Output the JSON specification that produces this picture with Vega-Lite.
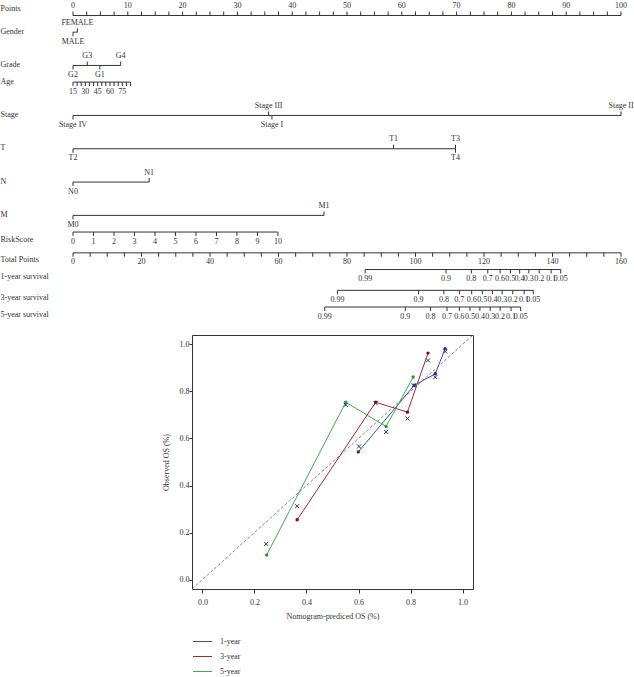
{
  "$schema": "https://vega.github.io/schema/vega-lite/v6.json",
  "padding": {"top": -2, "left": 0, "right": 0, "bottom": 0},
  "background": "white",
  "spacing": 13,
  "resolve": {"scale": {"color": "independent", "fill": "independent"}, "legend": {"color": "independent", "fill": "independent"}},
  "config": {"font": "Liberation Serif", "text": {"font": "Liberation Serif", "fill": "#333333"}},
  "datasets": {
    "ptsLines": [
      {"row": "Points", "x0": 0, "x1": 100},
      {"row": "Gender", "x0": 0, "x1": 0.8},
      {"row": "Grade", "x0": 0, "x1": 8.7},
      {"row": "Age", "x0": 0, "x1": 10.5},
      {"row": "Stage", "x0": 0, "x1": 100},
      {"row": "T", "x0": 0, "x1": 69.8},
      {"row": "N", "x0": 0, "x1": 13.9},
      {"row": "M", "x0": 0, "x1": 45.8},
      {"row": "RiskScore", "x0": 0, "x1": 37.4}
    ],
    "tpLines": [
      {"row": "Total Points", "x0": 0, "x1": 160},
      {"row": "1-year survival", "x0": 85.3, "x1": 142.4},
      {"row": "3-year survival", "x0": 77.2, "x1": 134.4},
      {"row": "5-year survival", "x0": 73.5, "x1": 130.7}
    ],
    "ptsTicks": [
      {"row": "Points", "x": 0, "label": "0", "side": "above"},
      {"row": "Points", "x": 2.5, "label": "", "side": "above"},
      {"row": "Points", "x": 5, "label": "", "side": "above"},
      {"row": "Points", "x": 7.5, "label": "", "side": "above"},
      {"row": "Points", "x": 10, "label": "10", "side": "above"},
      {"row": "Points", "x": 12.5, "label": "", "side": "above"},
      {"row": "Points", "x": 15, "label": "", "side": "above"},
      {"row": "Points", "x": 17.5, "label": "", "side": "above"},
      {"row": "Points", "x": 20, "label": "20", "side": "above"},
      {"row": "Points", "x": 22.5, "label": "", "side": "above"},
      {"row": "Points", "x": 25, "label": "", "side": "above"},
      {"row": "Points", "x": 27.5, "label": "", "side": "above"},
      {"row": "Points", "x": 30, "label": "30", "side": "above"},
      {"row": "Points", "x": 32.5, "label": "", "side": "above"},
      {"row": "Points", "x": 35, "label": "", "side": "above"},
      {"row": "Points", "x": 37.5, "label": "", "side": "above"},
      {"row": "Points", "x": 40, "label": "40", "side": "above"},
      {"row": "Points", "x": 42.5, "label": "", "side": "above"},
      {"row": "Points", "x": 45, "label": "", "side": "above"},
      {"row": "Points", "x": 47.5, "label": "", "side": "above"},
      {"row": "Points", "x": 50, "label": "50", "side": "above"},
      {"row": "Points", "x": 52.5, "label": "", "side": "above"},
      {"row": "Points", "x": 55, "label": "", "side": "above"},
      {"row": "Points", "x": 57.5, "label": "", "side": "above"},
      {"row": "Points", "x": 60, "label": "60", "side": "above"},
      {"row": "Points", "x": 62.5, "label": "", "side": "above"},
      {"row": "Points", "x": 65, "label": "", "side": "above"},
      {"row": "Points", "x": 67.5, "label": "", "side": "above"},
      {"row": "Points", "x": 70, "label": "70", "side": "above"},
      {"row": "Points", "x": 72.5, "label": "", "side": "above"},
      {"row": "Points", "x": 75, "label": "", "side": "above"},
      {"row": "Points", "x": 77.5, "label": "", "side": "above"},
      {"row": "Points", "x": 80, "label": "80", "side": "above"},
      {"row": "Points", "x": 82.5, "label": "", "side": "above"},
      {"row": "Points", "x": 85, "label": "", "side": "above"},
      {"row": "Points", "x": 87.5, "label": "", "side": "above"},
      {"row": "Points", "x": 90, "label": "90", "side": "above"},
      {"row": "Points", "x": 92.5, "label": "", "side": "above"},
      {"row": "Points", "x": 95, "label": "", "side": "above"},
      {"row": "Points", "x": 97.5, "label": "", "side": "above"},
      {"row": "Points", "x": 100, "label": "100", "side": "above"},
      {"row": "Gender", "x": 0.8, "label": "FEMALE", "side": "above"},
      {"row": "Gender", "x": 0, "label": "MALE", "side": "below"},
      {"row": "Grade", "x": 2.6, "label": "G3", "side": "above"},
      {"row": "Grade", "x": 8.7, "label": "G4", "side": "above"},
      {"row": "Grade", "x": 0, "label": "G2", "side": "below"},
      {"row": "Grade", "x": 4.9, "label": "G1", "side": "below"},
      {"row": "Age", "x": 0, "label": "15", "side": "below"},
      {"row": "Age", "x": 0.75, "label": "", "side": "below"},
      {"row": "Age", "x": 1.5, "label": "", "side": "below"},
      {"row": "Age", "x": 2.25, "label": "30", "side": "below"},
      {"row": "Age", "x": 3.0, "label": "", "side": "below"},
      {"row": "Age", "x": 3.75, "label": "", "side": "below"},
      {"row": "Age", "x": 4.5, "label": "45", "side": "below"},
      {"row": "Age", "x": 5.25, "label": "", "side": "below"},
      {"row": "Age", "x": 6.0, "label": "", "side": "below"},
      {"row": "Age", "x": 6.75, "label": "60", "side": "below"},
      {"row": "Age", "x": 7.5, "label": "", "side": "below"},
      {"row": "Age", "x": 8.25, "label": "", "side": "below"},
      {"row": "Age", "x": 9.0, "label": "75", "side": "below"},
      {"row": "Age", "x": 9.75, "label": "", "side": "below"},
      {"row": "Age", "x": 10.5, "label": "", "side": "below"},
      {"row": "Stage", "x": 35.7, "label": "Stage III", "side": "above"},
      {"row": "Stage", "x": 100, "label": "Stage II", "side": "above"},
      {"row": "Stage", "x": 0, "label": "Stage IV", "side": "below"},
      {"row": "Stage", "x": 36.3, "label": "Stage I", "side": "below"},
      {"row": "T", "x": 58.5, "label": "T1", "side": "above"},
      {"row": "T", "x": 69.8, "label": "T3", "side": "above"},
      {"row": "T", "x": 0, "label": "T2", "side": "below"},
      {"row": "T", "x": 69.8, "label": "T4", "side": "below"},
      {"row": "N", "x": 13.9, "label": "N1", "side": "above"},
      {"row": "N", "x": 0, "label": "N0", "side": "below"},
      {"row": "M", "x": 45.8, "label": "M1", "side": "above"},
      {"row": "M", "x": 0, "label": "M0", "side": "below"},
      {"row": "RiskScore", "x": 0, "label": "0", "side": "below"},
      {"row": "RiskScore", "x": 3.74, "label": "1", "side": "below"},
      {"row": "RiskScore", "x": 7.48, "label": "2", "side": "below"},
      {"row": "RiskScore", "x": 11.22, "label": "3", "side": "below"},
      {"row": "RiskScore", "x": 14.96, "label": "4", "side": "below"},
      {"row": "RiskScore", "x": 18.7, "label": "5", "side": "below"},
      {"row": "RiskScore", "x": 22.44, "label": "6", "side": "below"},
      {"row": "RiskScore", "x": 26.18, "label": "7", "side": "below"},
      {"row": "RiskScore", "x": 29.92, "label": "8", "side": "below"},
      {"row": "RiskScore", "x": 33.66, "label": "9", "side": "below"},
      {"row": "RiskScore", "x": 37.4, "label": "10", "side": "below"}
    ],
    "tpTicks": [
      {"row": "Total Points", "x": 0, "label": "0"},
      {"row": "Total Points", "x": 5, "label": ""},
      {"row": "Total Points", "x": 10, "label": ""},
      {"row": "Total Points", "x": 15, "label": ""},
      {"row": "Total Points", "x": 20, "label": "20"},
      {"row": "Total Points", "x": 25, "label": ""},
      {"row": "Total Points", "x": 30, "label": ""},
      {"row": "Total Points", "x": 35, "label": ""},
      {"row": "Total Points", "x": 40, "label": "40"},
      {"row": "Total Points", "x": 45, "label": ""},
      {"row": "Total Points", "x": 50, "label": ""},
      {"row": "Total Points", "x": 55, "label": ""},
      {"row": "Total Points", "x": 60, "label": "60"},
      {"row": "Total Points", "x": 65, "label": ""},
      {"row": "Total Points", "x": 70, "label": ""},
      {"row": "Total Points", "x": 75, "label": ""},
      {"row": "Total Points", "x": 80, "label": "80"},
      {"row": "Total Points", "x": 85, "label": ""},
      {"row": "Total Points", "x": 90, "label": ""},
      {"row": "Total Points", "x": 95, "label": ""},
      {"row": "Total Points", "x": 100, "label": "100"},
      {"row": "Total Points", "x": 105, "label": ""},
      {"row": "Total Points", "x": 110, "label": ""},
      {"row": "Total Points", "x": 115, "label": ""},
      {"row": "Total Points", "x": 120, "label": "120"},
      {"row": "Total Points", "x": 125, "label": ""},
      {"row": "Total Points", "x": 130, "label": ""},
      {"row": "Total Points", "x": 135, "label": ""},
      {"row": "Total Points", "x": 140, "label": "140"},
      {"row": "Total Points", "x": 145, "label": ""},
      {"row": "Total Points", "x": 150, "label": ""},
      {"row": "Total Points", "x": 155, "label": ""},
      {"row": "Total Points", "x": 160, "label": "160"},
      {"row": "1-year survival", "x": 85.3, "label": "0.99"},
      {"row": "1-year survival", "x": 108.9, "label": "0.9"},
      {"row": "1-year survival", "x": 116.3, "label": "0.8"},
      {"row": "1-year survival", "x": 121.1, "label": "0.7"},
      {"row": "1-year survival", "x": 124.7, "label": "0.6"},
      {"row": "1-year survival", "x": 127.7, "label": "0.5"},
      {"row": "1-year survival", "x": 130.4, "label": "0.4"},
      {"row": "1-year survival", "x": 133.1, "label": "0.3"},
      {"row": "1-year survival", "x": 136.1, "label": "0.2"},
      {"row": "1-year survival", "x": 139.6, "label": "0.1"},
      {"row": "1-year survival", "x": 142.4, "label": "0.05"},
      {"row": "3-year survival", "x": 77.2, "label": "0.99"},
      {"row": "3-year survival", "x": 100.9, "label": "0.9"},
      {"row": "3-year survival", "x": 108.3, "label": "0.8"},
      {"row": "3-year survival", "x": 112.8, "label": "0.7"},
      {"row": "3-year survival", "x": 116.4, "label": "0.6"},
      {"row": "3-year survival", "x": 119.5, "label": "0.5"},
      {"row": "3-year survival", "x": 122.5, "label": "0.4"},
      {"row": "3-year survival", "x": 125.3, "label": "0.3"},
      {"row": "3-year survival", "x": 128.4, "label": "0.2"},
      {"row": "3-year survival", "x": 131.7, "label": "0.1"},
      {"row": "3-year survival", "x": 134.4, "label": "0.05"},
      {"row": "5-year survival", "x": 73.5, "label": "0.99"},
      {"row": "5-year survival", "x": 97.0, "label": "0.9"},
      {"row": "5-year survival", "x": 104.4, "label": "0.8"},
      {"row": "5-year survival", "x": 109.2, "label": "0.7"},
      {"row": "5-year survival", "x": 112.8, "label": "0.6"},
      {"row": "5-year survival", "x": 115.9, "label": "0.5"},
      {"row": "5-year survival", "x": 118.8, "label": "0.4"},
      {"row": "5-year survival", "x": 121.8, "label": "0.3"},
      {"row": "5-year survival", "x": 124.7, "label": "0.2"},
      {"row": "5-year survival", "x": 127.9, "label": "0.1"},
      {"row": "5-year survival", "x": 130.7, "label": "0.05"}
    ],
    "calib": [
      {"year": "1-year", "pred": 0.599, "obs": 0.543},
      {"year": "1-year", "pred": 0.814, "obs": 0.826},
      {"year": "1-year", "pred": 0.895, "obs": 0.875},
      {"year": "1-year", "pred": 0.933, "obs": 0.982},
      {"year": "3-year", "pred": 0.364, "obs": 0.254},
      {"year": "3-year", "pred": 0.666, "obs": 0.754},
      {"year": "3-year", "pred": 0.788, "obs": 0.712},
      {"year": "3-year", "pred": 0.867, "obs": 0.963},
      {"year": "5-year", "pred": 0.247, "obs": 0.105},
      {"year": "5-year", "pred": 0.551, "obs": 0.754},
      {"year": "5-year", "pred": 0.706, "obs": 0.651},
      {"year": "5-year", "pred": 0.810, "obs": 0.861}
    ],
    "corrected": [
      {"pred": 0.245, "obs": 0.152},
      {"pred": 0.364, "obs": 0.312},
      {"pred": 0.551, "obs": 0.743},
      {"pred": 0.602, "obs": 0.566},
      {"pred": 0.666, "obs": 0.750},
      {"pred": 0.706, "obs": 0.628},
      {"pred": 0.788, "obs": 0.685},
      {"pred": 0.812, "obs": 0.826},
      {"pred": 0.867, "obs": 0.932},
      {"pred": 0.895, "obs": 0.861},
      {"pred": 0.933, "obs": 0.970}
    ],
    "diag": [{"pred": -0.04, "obs": -0.04, "pred2": 1.04, "obs2": 1.04}]
  },
  "vconcat": [
    {
      "width": 548,
      "height": 304,
      "view": {"stroke": null},
      "resolve": {"scale": {"x": "independent"}},
      "encoding": {
        "y": {
          "field": "row",
          "type": "nominal",
          "scale": {
            "type": "point",
            "padding": 0,
            "domain": ["_0","_1","_2","Points","_4","_5","_6","Gender","_8","_9","_10","_11","_12","_13","_14","Grade","_16","_17","_18","Age","_20","_21","_22","_23","_24","_25","_26","Stage","_28","_29","_30","_31","_32","_33","_34","T","_36","_37","_38","_39","_40","_41","_42","N","_44","_45","_46","_47","_48","_49","_50","M","_52","_53","_54","RiskScore","_56","_57","_58","_59","Total Points","_61","_62","_63","1-year survival","_65","_66","_67","_68","3-year survival","_70","_71","_72","5-year survival"]
          },
          "axis": {
            "title": null,
            "orient": "left",
            "domain": false,
            "ticks": false,
            "tickSize": 0,
            "grid": false,
            "labelAlign": "left",
            "labelBaseline": "middle",
            "labelPadding": 73,
            "labelFont": "Liberation Serif",
            "labelFontSize": 8,
            "labelColor": "#333333",
            "labelOverlap": false,
            "labelExpr": "indexof(datum.value, '_') == 0 ? '' : datum.value",
            "labelOffset": {
              "condition": [
                {"test": "datum.value == 'Points'", "value": -7},
                {"test": "indexof(['RiskScore','Total Points','1-year survival','3-year survival','5-year survival'], datum.value) >= 0", "value": 7}
              ],
              "value": -1
            }
          }
        }
      },
      "layer": [
        {
          "data": {"name": "ptsLines"},
          "mark": {"type": "rule", "color": "#333333", "strokeWidth": 1},
          "encoding": {
            "x": {"field": "x0", "type": "quantitative", "scale": {"domain": [0, 100], "nice": false, "zero": false}, "axis": null},
            "x2": {"field": "x1"}
          }
        },
        {
          "data": {"name": "ptsTicks"},
          "transform": [{"filter": "datum.side == 'above'"}],
          "mark": {"type": "tick", "orient": "vertical", "size": 4, "thickness": 1, "yOffset": -2, "color": "#333333", "opacity": 1},
          "encoding": {
            "x": {"field": "x", "type": "quantitative", "scale": {"domain": [0, 100], "nice": false, "zero": false}, "axis": null}
          }
        },
        {
          "data": {"name": "ptsTicks"},
          "transform": [{"filter": "datum.side == 'below'"}],
          "mark": {"type": "tick", "orient": "vertical", "size": 4, "thickness": 1, "yOffset": 2, "color": "#333333", "opacity": 1},
          "encoding": {
            "x": {"field": "x", "type": "quantitative", "scale": {"domain": [0, 100], "nice": false, "zero": false}, "axis": null}
          }
        },
        {
          "data": {"name": "ptsTicks"},
          "transform": [{"filter": "datum.side == 'above' && datum.label != ''"}],
          "mark": {"type": "text", "dy": -9.5, "fontSize": 8, "font": "Liberation Serif", "color": "#333333", "fill": "#333333", "baseline": "middle", "align": "center"},
          "encoding": {
            "x": {"field": "x", "type": "quantitative", "scale": {"domain": [0, 100], "nice": false, "zero": false}, "axis": null},
            "text": {"field": "label"}
          }
        },
        {
          "data": {"name": "ptsTicks"},
          "transform": [{"filter": "datum.side == 'below' && datum.label != ''"}],
          "mark": {"type": "text", "dy": 9.5, "fontSize": 8, "font": "Liberation Serif", "color": "#333333", "fill": "#333333", "baseline": "middle", "align": "center"},
          "encoding": {
            "x": {"field": "x", "type": "quantitative", "scale": {"domain": [0, 100], "nice": false, "zero": false}, "axis": null},
            "text": {"field": "label"}
          }
        },
        {
          "data": {"name": "tpLines"},
          "mark": {"type": "rule", "color": "#333333", "strokeWidth": 1},
          "encoding": {
            "x": {"field": "x0", "type": "quantitative", "scale": {"domain": [0, 160], "nice": false, "zero": false}, "axis": null},
            "x2": {"field": "x1"}
          }
        },
        {
          "data": {"name": "tpTicks"},
          "mark": {"type": "tick", "orient": "vertical", "size": 4, "thickness": 1, "yOffset": 2, "color": "#333333", "opacity": 1},
          "encoding": {
            "x": {"field": "x", "type": "quantitative", "scale": {"domain": [0, 160], "nice": false, "zero": false}, "axis": null}
          }
        },
        {
          "data": {"name": "tpTicks"},
          "transform": [{"filter": "datum.label != ''"}],
          "mark": {"type": "text", "dy": 9.5, "fontSize": 8, "font": "Liberation Serif", "color": "#333333", "fill": "#333333", "baseline": "middle", "align": "center"},
          "encoding": {
            "x": {"field": "x", "type": "quantitative", "scale": {"domain": [0, 160], "nice": false, "zero": false}, "axis": null},
            "text": {"field": "label"}
          }
        }
      ]
    },
    {
      "spacing": 20,
      "resolve": {"scale": {"color": "independent", "fill": "independent"}, "legend": {"color": "independent", "fill": "independent"}},
      "hconcat": [
        {
          "width": 68,
          "height": 10,
          "view": {"stroke": null},
          "data": {"values": []},
          "mark": {"type": "point"},
          "encoding": {}
        },
        {
          "width": 281,
          "height": 254,
          "view": {"stroke": "#333333", "strokeWidth": 1},
          "encoding": {
            "x": {
              "field": "pred",
              "type": "quantitative",
              "scale": {"domain": [-0.04, 1.04], "nice": false, "zero": false},
              "axis": {
                "values": [0, 0.2, 0.4, 0.6, 0.8, 1],
                "format": ".1f",
                "title": "Nomogram-prediced OS (%)",
                "domain": false,
                "grid": false,
                "tickSize": 4,
                "tickColor": "#333333",
                "labelPadding": 5,
                "labelFlush": false,
                "labelFont": "Liberation Serif",
                "labelFontSize": 8,
                "labelColor": "#333333",
                "titleFont": "Liberation Serif",
                "titleFontSize": 8,
                "titleFontWeight": "normal",
                "titleColor": "#333333",
                "titlePadding": 6
              }
            },
            "y": {
              "field": "obs",
              "type": "quantitative",
              "scale": {"domain": [-0.04, 1.04], "nice": false, "zero": false},
              "axis": {
                "values": [0, 0.2, 0.4, 0.6, 0.8, 1],
                "format": ".1f",
                "title": "Observed OS (%)",
                "domain": false,
                "grid": false,
                "tickSize": 3,
                "tickColor": "#333333",
                "labelPadding": 0,
                "labelFlush": false,
                "labelFont": "Liberation Serif",
                "labelFontSize": 8,
                "labelColor": "#333333",
                "titleFont": "Liberation Serif",
                "titleFontSize": 8,
                "titleFontWeight": "normal",
                "titleColor": "#333333",
                "titlePadding": 9
              }
            }
          },
          "layer": [
            {
              "data": {"name": "diag"},
              "mark": {"type": "rule", "color": "#666666", "strokeWidth": 0.8, "strokeDash": [3, 2]},
              "encoding": {
                "x2": {"field": "pred2"},
                "y2": {"field": "obs2"}
              }
            },
            {
              "data": {"name": "calib"},
              "mark": {"type": "line", "strokeWidth": 1},
              "encoding": {
                "color": {
                  "field": "year",
                  "type": "nominal",
                  "scale": {"domain": ["1-year", "3-year", "5-year"], "range": ["#3953a4", "#a8272f", "#3fae49"]},
                  "legend": {
                    "orient": "none",
                    "legendX": 3,
                    "legendY": 299,
                    "title": null,
                    "padding": 0,
                    "symbolType": "M-1.36,0H1.36",
                    "symbolSize": 196,
                    "symbolStrokeWidth": 1,
                    "labelFont": "Liberation Serif",
                    "labelFontSize": 8,
                    "labelColor": "#333333",
                    "labelOffset": 10,
                    "rowPadding": 3
                  }
                }
              }
            },
            {
              "data": {"name": "calib"},
              "mark": {"type": "circle", "size": 12, "opacity": 1},
              "encoding": {
                "fill": {
                  "field": "year",
                  "type": "nominal",
                  "scale": {"domain": ["1-year", "3-year", "5-year"], "range": ["#1c2f8f", "#7f0f14", "#2a9a2a"]},
                  "legend": null
                }
              }
            },
            {
              "data": {"name": "corrected"},
              "mark": {"type": "point", "shape": "M-1,-1L1,1M1,-1L-1,1", "size": 16, "filled": false, "color": "#2b2f7f", "strokeWidth": 1, "opacity": 1}
            }
          ]
        }
      ]
    }
  ]
}
